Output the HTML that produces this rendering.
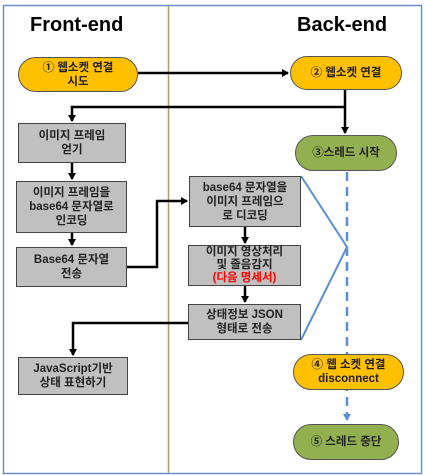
<!DOCTYPE html>
<html><head><meta charset="utf-8"><style>
body{margin:0;width:425px;height:475px;background:#fff;overflow:hidden;font-family:"Liberation Sans","Noto Sans CJK KR",sans-serif}
.n{position:absolute;box-sizing:border-box;display:flex;align-items:center;justify-content:center;text-align:center;font-size:11.5px;font-weight:bold;line-height:14px;color:#222}
.b{background:#c0c0c0;border:1.5px solid #444}
.y{background:#ffc000;border:1.5px solid #555;border-radius:18px}
.g{background:#92b050;border:1.5px solid #555;border-radius:18px}
.h{position:absolute;font-size:20px;font-weight:bold;top:14px}
</style></head><body>
<svg width="425" height="475" style="position:absolute;left:0;top:0">
<defs><marker id="a" markerWidth="8" markerHeight="8" refX="6" refY="4" orient="auto" markerUnits="userSpaceOnUse"><path d="M0,0L7,4L0,8z" fill="#000"/></marker>
<marker id="c" markerWidth="8" markerHeight="8" refX="6" refY="4" orient="auto" markerUnits="userSpaceOnUse"><path d="M0,0L7,4L0,8z" fill="#5b8fd6"/></marker></defs>
<rect x="3.5" y="5.5" width="418" height="468" fill="none" stroke="#6a8fc8" stroke-width="1.5"/>
<line x1="168.5" y1="6" x2="168.5" y2="473" stroke="#a89c6a" stroke-width="1.5"/>
<g stroke="#000" stroke-width="2.5" fill="none">
<line x1="138" y1="73" x2="288" y2="73" marker-end="url(#a)"/>
<line x1="345" y1="90" x2="345" y2="133" marker-end="url(#a)"/>
<polyline points="345,107 72,107 72,121" marker-end="url(#a)"/>
<line x1="72" y1="163" x2="72" y2="179" marker-end="url(#a)"/>
<line x1="72" y1="233" x2="72" y2="245" marker-end="url(#a)"/>
<polyline points="127,267 157,267 157,201 187,201" marker-end="url(#a)"/>
<line x1="245" y1="227" x2="245" y2="243" marker-end="url(#a)"/>
<line x1="245" y1="286" x2="245" y2="302" marker-end="url(#a)"/>
<polyline points="188,323 73,323 73,355" marker-end="url(#a)"/>
</g>
<polyline points="301,176 347,247 301,340" fill="none" stroke="#5b8fd6" stroke-width="2"/>
<line x1="347" y1="172" x2="347" y2="420" stroke="#5b8fd6" stroke-width="2.5" stroke-dasharray="9,6" marker-end="url(#c)"/>
</svg>
<div class="h" style="left:30px">Front-end</div>
<div class="h" style="left:297px">Back-end</div>
<div class="n y" style="left:18px;top:57px;width:120px;height:35px">① 웹소켓 연결<br>시도</div>
<div class="n y" style="left:290px;top:56px;width:112px;height:34px">② 웹소켓 연결</div>
<div class="n g" style="left:295px;top:135px;width:102px;height:36px">③스레드 시작</div>
<div class="n b" style="left:18px;top:123px;width:108px;height:40px">이미지 프레임<br>얻기</div>
<div class="n b" style="left:16px;top:181px;width:111px;height:52px">이미지 프레임을<br>base64 문자열로<br>인코딩</div>
<div class="n b" style="left:16px;top:247px;width:111px;height:40px">Base64 문자열<br>전송</div>
<div class="n b" style="left:189px;top:176px;width:112px;height:51px">base64 문자열을<br>이미지 프레임으<br>로 디코딩</div>
<div class="n b" style="left:188px;top:245px;width:113px;height:41px;line-height:13px;overflow:visible"><div>이미지 영상처리<br>및 졸음감지<br><span style="color:#f00">(다음 명세서)</span></div></div>
<div class="n b" style="left:188px;top:304px;width:113px;height:36px">상태정보 JSON<br>형태로 전송</div>
<div class="n b" style="left:18px;top:357px;width:110px;height:38px">JavaScript기반<br>상태 표현하기</div>
<div class="n y" style="left:293px;top:354px;width:111px;height:36px">④ 웹 소켓 연결<br>disconnect</div>
<div class="n g" style="left:293px;top:424px;width:106px;height:36px">⑤ 스레드 중단</div>
</body></html>
